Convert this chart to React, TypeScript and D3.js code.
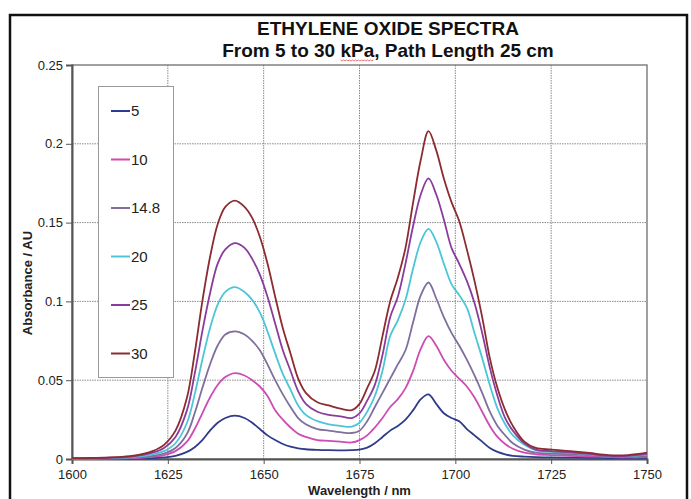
import { useRef, useEffect } from "react";
import * as d3 from "d3";

// Wavelength samples (nm)
const wavelengths = [
  1600, 1605, 1610, 1615, 1618, 1621, 1624, 1627, 1630, 1632, 1634, 1636, 1638, 1640, 1642.5,
  1645, 1647, 1649, 1651, 1653, 1655, 1657, 1659, 1661, 1664, 1667, 1670, 1673, 1675, 1677,
  1679, 1681, 1683, 1685, 1687, 1689, 1691, 1693, 1695, 1697, 1699, 1701, 1703, 1705, 1707,
  1709, 1711, 1713, 1715, 1718, 1721, 1725, 1730, 1735, 1740, 1745, 1750,
];

const pressures = ["5", "10", "14.8", "20", "25", "30"];
const colors = ["#2f3b8c", "#cc4cb4", "#7f6f9c", "#4cc6d6", "#8a3c9c", "#8c2c30"];

const abs5 = [
  0.0001, 0.0001, 0.0002, 0.0003, 0.0004, 0.0006, 0.001, 0.002, 0.0045, 0.0075, 0.012, 0.018, 0.023, 0.026, 0.0275,
  0.026, 0.023, 0.019, 0.015, 0.012, 0.0095, 0.0078, 0.0068, 0.0062, 0.0058, 0.0056, 0.0055, 0.0056, 0.006, 0.0072,
  0.01, 0.014, 0.018, 0.021, 0.025, 0.031, 0.038, 0.041, 0.035, 0.029, 0.026, 0.024, 0.019, 0.015, 0.011,
  0.007, 0.0045, 0.003, 0.002, 0.0015, 0.0012, 0.001, 0.0009, 0.0008, 0.0006, 0.0006, 0.0008,
];
const abs10 = [
  0.0001, 0.0002, 0.0003, 0.0005, 0.0008, 0.0013, 0.0025, 0.005, 0.011, 0.019, 0.029, 0.039, 0.047, 0.052, 0.0545,
  0.053, 0.05, 0.046, 0.04, 0.031, 0.025, 0.02, 0.016, 0.014, 0.012, 0.0115, 0.011, 0.0105, 0.012, 0.015,
  0.02, 0.026, 0.033, 0.038, 0.045, 0.056, 0.07, 0.078, 0.072, 0.063, 0.056, 0.051, 0.046, 0.039, 0.03,
  0.021, 0.014, 0.0095, 0.0065, 0.004, 0.003, 0.0025, 0.002, 0.0016, 0.0012, 0.001, 0.0014,
];
const abs148 = [
  0.0002, 0.0003, 0.0004, 0.0007, 0.0012, 0.002, 0.0035, 0.007, 0.016, 0.029, 0.045, 0.06, 0.072, 0.079, 0.081,
  0.079, 0.075, 0.069, 0.06, 0.05, 0.041, 0.033, 0.026, 0.022, 0.019, 0.018, 0.017, 0.0165, 0.018, 0.024,
  0.033, 0.042, 0.051, 0.06, 0.069, 0.087, 0.104, 0.112, 0.102, 0.09, 0.08, 0.072, 0.063, 0.053, 0.042,
  0.03, 0.021, 0.015, 0.01, 0.006, 0.004, 0.0035, 0.003, 0.0025, 0.0018, 0.0015, 0.002,
];
const abs20 = [
  0.0003, 0.0004, 0.0006, 0.001, 0.0018, 0.003, 0.005, 0.01, 0.023, 0.041, 0.063, 0.083, 0.098, 0.106, 0.109,
  0.106, 0.101, 0.093, 0.081, 0.067, 0.054, 0.044, 0.034, 0.028, 0.024, 0.022, 0.021, 0.0205, 0.023, 0.03,
  0.04, 0.056, 0.078, 0.088, 0.101, 0.121, 0.138, 0.146, 0.138, 0.124, 0.111, 0.104, 0.096, 0.08, 0.064,
  0.047, 0.032, 0.022, 0.015, 0.009, 0.0055, 0.0045, 0.004, 0.003, 0.002, 0.0018, 0.0028,
];
const abs25 = [
  0.0004, 0.0005, 0.0008, 0.0014, 0.0024, 0.004, 0.007, 0.014, 0.031, 0.054, 0.081, 0.105, 0.124, 0.133, 0.137,
  0.134, 0.127, 0.117, 0.103, 0.086, 0.069, 0.056, 0.043, 0.035, 0.03, 0.028, 0.027, 0.026, 0.029, 0.037,
  0.047, 0.066, 0.09, 0.103, 0.124, 0.148, 0.168, 0.178, 0.168, 0.152, 0.134, 0.124, 0.113, 0.099, 0.08,
  0.058, 0.04, 0.026, 0.018, 0.01, 0.006, 0.005, 0.0042, 0.0032, 0.002, 0.002, 0.0032,
];
const abs30 = [
  0.0005, 0.0007, 0.001, 0.0018, 0.003, 0.005, 0.009, 0.018, 0.039, 0.067, 0.1, 0.128, 0.149, 0.16, 0.164,
  0.16, 0.153, 0.141, 0.124, 0.103, 0.083, 0.067, 0.051, 0.042, 0.036, 0.034, 0.032, 0.031, 0.035, 0.045,
  0.056, 0.078, 0.1, 0.115, 0.134, 0.163, 0.19, 0.208, 0.196, 0.178, 0.163, 0.151, 0.133, 0.113, 0.09,
  0.064, 0.045, 0.031, 0.021, 0.011, 0.007, 0.006, 0.005, 0.0038, 0.0025, 0.0025, 0.004,
];
const series = [abs5, abs10, abs148, abs20, abs25, abs30];

const xTicks = [1600, 1625, 1650, 1675, 1700, 1725, 1750];
const yTicks = [0, 0.05, 0.1, 0.15, 0.2, 0.25];

const font = "Liberation Sans, Arial, sans-serif";

function SpectraChart({ width, height }: { width: number; height: number }) {
  const ref = useRef<SVGSVGElement>(null);

  useEffect(() => {
    if (!ref.current) return;
    const svg = d3.select(ref.current);
    svg.selectAll("*").remove();

    const plot = { left: 72, right: 647, top: 65, bottom: 459 };

    const x = d3.scaleLinear().domain([1600, 1750]).range([plot.left, plot.right]);
    const y = d3.scaleLinear().domain([0, 0.25]).range([plot.bottom, plot.top]);

    svg.append("rect").attr("width", width).attr("height", height).attr("fill", "#fff");

    // outer chart frame
    svg
      .append("rect")
      .attr("x", 10)
      .attr("y", 15)
      .attr("width", 677)
      .attr("height", height + 10)
      .attr("fill", "none")
      .attr("stroke", "#111")
      .attr("stroke-width", 2.5);

    // title
    const cx = 388;
    const title = svg
      .append("text")
      .attr("text-anchor", "middle")
      .attr("font-family", font)
      .attr("font-weight", "bold")
      .attr("font-size", 19)
      .attr("fill", "#111");
    title.append("tspan").attr("x", cx).attr("y", 35).text("ETHYLENE OXIDE SPECTRA");
    const line2Text = "From 5 to 30 kPa, Path Length 25 cm";
    const line2 = title.append("tspan").attr("x", cx).attr("y", 57).text(line2Text);

    // spell-check squiggle under "kPa"
    const node = line2.node() as SVGTSpanElement | null;
    if (node && node.getSubStringLength) {
      const total = node.getComputedTextLength();
      const idx = line2Text.indexOf("kPa");
      const start = cx - total / 2 + node.getSubStringLength(0, idx);
      const len = node.getSubStringLength(idx, 3);
      const pts: [number, number][] = [];
      for (let px = 0; px <= len; px += 1.5) pts.push([start + px, 60 + ((px / 1.5) % 2 === 0 ? 0 : 1)]);
      svg
        .append("path")
        .attr("d", d3.line()(pts))
        .attr("fill", "none")
        .attr("stroke", "#e05050")
        .attr("stroke-width", 0.8);
    }

    // grid
    const grid = svg.append("g").attr("stroke", "#8a8a8a").attr("stroke-width", 1).attr("stroke-dasharray", "1.5 1");
    grid
      .selectAll("line.v")
      .data(xTicks.slice(1, -1))
      .join("line")
      .attr("class", "v")
      .attr("x1", (d) => x(d))
      .attr("x2", (d) => x(d))
      .attr("y1", plot.top)
      .attr("y2", plot.bottom);
    grid
      .selectAll("line.h")
      .data(yTicks.slice(1, -1))
      .join("line")
      .attr("class", "h")
      .attr("x1", plot.left)
      .attr("x2", plot.right)
      .attr("y1", (d) => y(d))
      .attr("y2", (d) => y(d));

    // plot border
    svg
      .append("rect")
      .attr("x", plot.left)
      .attr("y", plot.top)
      .attr("width", plot.right - plot.left)
      .attr("height", plot.bottom - plot.top)
      .attr("fill", "none")
      .attr("stroke", "#6e6e6e")
      .attr("stroke-width", 1.3);

    // axes
    const xAxis = svg
      .append("g")
      .attr("transform", `translate(0, ${plot.bottom})`)
      .call(d3.axisBottom(x).tickValues(xTicks).tickSize(5).tickFormat(d3.format("d")));
    const yAxis = svg
      .append("g")
      .attr("transform", `translate(${plot.left}, 0)`)
      .call(d3.axisLeft(y).tickValues(yTicks).tickSize(6).tickFormat((d) => String(d)));
    for (const ax of [xAxis, yAxis]) {
      ax.select(".domain").attr("stroke", "#555").attr("stroke-width", 2);
      ax.selectAll(".tick line").attr("stroke", "#555");
      ax.selectAll(".tick text").attr("font-family", font).attr("font-size", 13).attr("fill", "#222");
    }
    xAxis.selectAll(".tick text").attr("dy", "0.95em");
    yAxis.selectAll(".tick text").attr("x", -9);

    // series
    const line = d3
      .line<number>()
      .x((_, i) => x(wavelengths[i]))
      .y((d) => y(d))
      .curve(d3.curveCatmullRom.alpha(0.5));
    svg
      .append("g")
      .selectAll("path")
      .data(series)
      .join("path")
      .attr("d", (d) => line(d))
      .attr("fill", "none")
      .attr("stroke", (_, i) => colors[i])
      .attr("stroke-width", 1.8);

    // legend
    const legend = svg.append("g");
    legend
      .append("rect")
      .attr("x", 98.5)
      .attr("y", 86.5)
      .attr("width", 75)
      .attr("height", 291)
      .attr("fill", "#fff")
      .attr("stroke", "#9a9a9a");
    const items = legend
      .selectAll("g")
      .data(pressures)
      .join("g")
      .attr("transform", (_, i) => `translate(0, ${111 + i * 48.5})`);
    items
      .append("line")
      .attr("x1", 111)
      .attr("x2", 130)
      .attr("stroke", (_, i) => colors[i])
      .attr("stroke-width", 2);
    items
      .append("text")
      .attr("x", 131)
      .attr("dy", "0.36em")
      .attr("font-family", font)
      .attr("font-size", 15)
      .attr("fill", "#222")
      .text((d) => d);

    // axis titles
    svg
      .append("text")
      .attr("x", x(1675))
      .attr("y", 495)
      .attr("text-anchor", "middle")
      .attr("font-family", font)
      .attr("font-weight", "bold")
      .attr("font-size", 13)
      .attr("fill", "#222")
      .text("Wavelength / nm");
    svg
      .append("text")
      .attr("transform", "translate(32, 283) rotate(-90)")
      .attr("text-anchor", "middle")
      .attr("font-family", font)
      .attr("font-weight", "bold")
      .attr("font-size", 13)
      .attr("fill", "#222")
      .text("Absorbance / AU");
  }, [width, height]);

  return <svg ref={ref} width={width} height={height} style={{ display: "block" }} />;
}

export default function App() {
  return (
    <div style={{ position: "absolute", left: 0, top: 0 }}>
      <SpectraChart width={691} height={499} />
    </div>
  );
}
